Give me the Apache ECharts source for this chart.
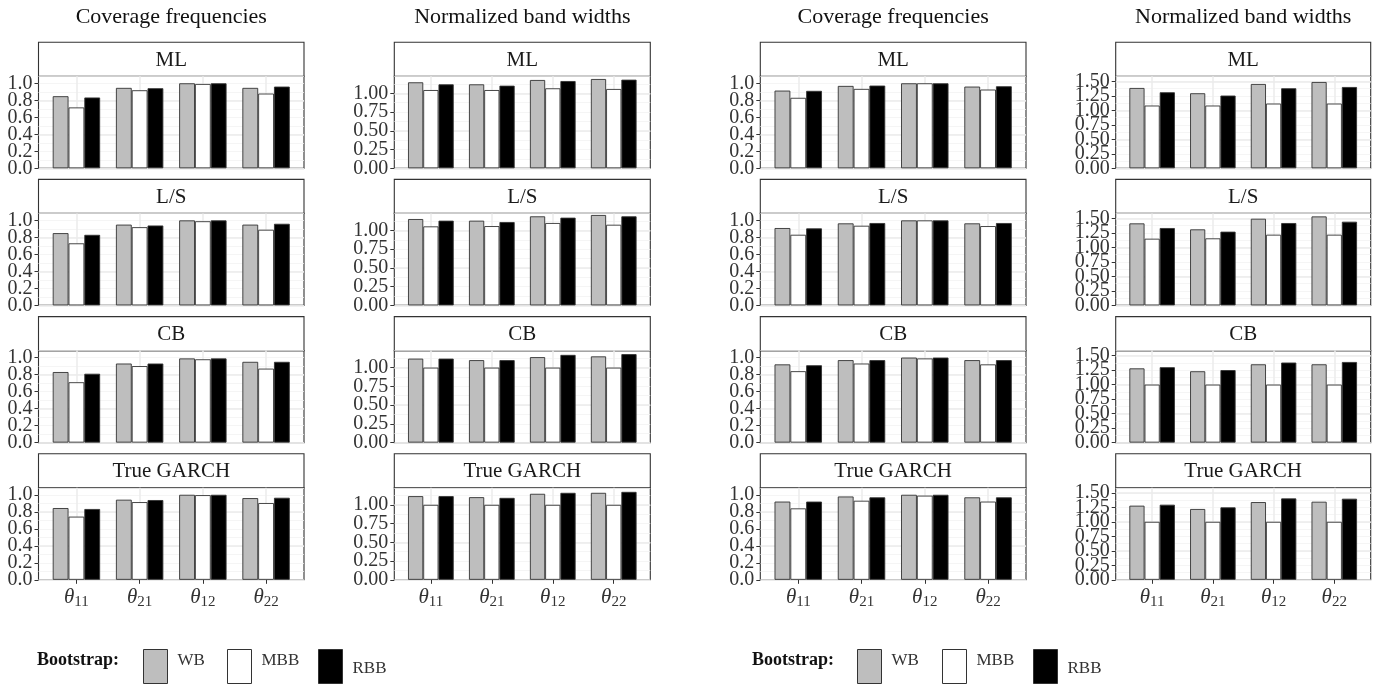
<!DOCTYPE html>
<html>
<head>
<meta charset="utf-8">
<script src="https://cdn.jsdelivr.net/npm/echarts@6/dist/echarts.min.js"></script>
<style>
  html, body { margin: 0; padding: 0; background: #fff; }
  #chart { width: 1378px; height: 684px; }
</style>
</head>
<body>
<div id="chart"></div>
<script>
// Categories and facets
const params = ['θ11', 'θ21', 'θ12', 'θ22'];
const estimators = ['ML', 'L/S', 'CB', 'True GARCH'];
const bootstraps = ['WB', 'MBB', 'RBB'];
const columnTitles = ['Coverage frequencies', 'Normalized band widths', 'Coverage frequencies', 'Normalized band widths'];

// Left figure, coverage frequencies (rows: ML, L/S, CB, True GARCH; cols: params)
const covA_WB  = [[0.848, 0.946, 1.000, 0.946], [0.850, 0.950, 1.000, 0.950], [0.830, 0.930, 0.990, 0.950], [0.844, 0.942, 1.000, 0.961]];
const covA_MBB = [[0.716, 0.918, 0.992, 0.879], [0.730, 0.920, 0.990, 0.890], [0.710, 0.900, 0.980, 0.870], [0.743, 0.914, 0.996, 0.903]];
const covA_RBB = [[0.833, 0.942, 1.000, 0.961], [0.830, 0.940, 1.000, 0.960], [0.810, 0.930, 0.990, 0.950], [0.833, 0.938, 1.000, 0.965]];

// Left figure, normalized band widths
const bwA_WB  = [[1.147, 1.120, 1.178, 1.191], [1.152, 1.130, 1.188, 1.206], [1.120, 1.100, 1.140, 1.150], [1.116, 1.102, 1.147, 1.160]];
const bwA_MBB = [[1.044, 1.044, 1.067, 1.058], [1.054, 1.058, 1.099, 1.076], [1.000, 1.000, 1.000, 1.000], [1.000, 1.000, 1.000, 1.000]];
const bwA_RBB = [[1.120, 1.102, 1.164, 1.182], [1.130, 1.112, 1.170, 1.188], [1.120, 1.100, 1.170, 1.180], [1.116, 1.093, 1.160, 1.173]];

// Right figure, coverage frequencies
const covB_WB  = [[0.914, 0.969, 1.000, 0.961], [0.910, 0.965, 1.000, 0.965], [0.920, 0.970, 1.000, 0.970], [0.920, 0.980, 1.000, 0.970]];
const covB_MBB = [[0.829, 0.934, 1.000, 0.926], [0.831, 0.937, 1.000, 0.933], [0.840, 0.930, 0.990, 0.920], [0.840, 0.930, 0.990, 0.920]];
const covB_RBB = [[0.911, 0.973, 1.000, 0.965], [0.906, 0.969, 1.000, 0.969], [0.910, 0.970, 1.000, 0.970], [0.920, 0.970, 1.000, 0.970]];

// Right figure, normalized band widths
const bwB_WB  = [[1.385, 1.294, 1.454, 1.488], [1.414, 1.311, 1.494, 1.534], [1.280, 1.230, 1.350, 1.350], [1.278, 1.221, 1.340, 1.346]];
const bwB_MBB = [[1.082, 1.082, 1.116, 1.116], [1.150, 1.156, 1.219, 1.219], [1.000, 1.000, 1.000, 1.000], [1.000, 1.000, 1.000, 1.000]];
const bwB_RBB = [[1.311, 1.254, 1.380, 1.402], [1.334, 1.271, 1.420, 1.443], [1.300, 1.250, 1.380, 1.390], [1.295, 1.249, 1.403, 1.398]];

// Y-axis tick labels per column
const covTicks = [0, 0.2, 0.4, 0.6, 0.8, 1.0];
const bwTicksA = [0, 0.25, 0.5, 0.75, 1.0];
const bwTicksB = [0, 0.25, 0.5, 0.75, 1.0, 1.25, 1.5];

// Column setup: data, axis range, tick spacing
const columns = [
  { data: [covA_WB, covA_MBB, covA_RBB], max: 1.082, step: 0.2,  ticks: covTicks, dec: 1 },
  { data: [bwA_WB,  bwA_MBB,  bwA_RBB],  max: 1.227, step: 0.25, ticks: bwTicksA, dec: 2 },
  { data: [covB_WB, covB_MBB, covB_RBB], max: 1.082, step: 0.2,  ticks: covTicks, dec: 1 },
  { data: [bwB_WB,  bwB_MBB,  bwB_RBB],  max: 1.586, step: 0.25, ticks: bwTicksB, dec: 2 }
];

// Layout (pixels)
const panelX = [[38.5, 304], [394.3, 650.3], [760.3, 1026], [1115.7, 1370.7]];
const stripTop = [42.3, 179.4, 316.6, 453.8];
const STRIP_H = 34, PLOT_H = 92;
const SERIF = 'Liberation Serif';
const fills = ['#bebebe', '#ffffff', '#000000'];
const MAJOR = '#ebebeb', MINOR = '#f3f3f3', INK = '#333333';

const grid = [], xAxis = [], yAxis = [], series = [], graphic = [];

columns.forEach((col, c) => {
  const L = panelX[c][0], R = panelX[c][1], W = R - L, u = W / 4.2;
  // tick labels are split over two axes so that the tightly packed labels all stay visible
  const labelSets = [col.ticks.filter((_, i) => i % 2 === 0), col.ticks.filter((_, i) => i % 2 === 1)];
  graphic.push({
    type: 'text', silent: true,
    style: { text: columnTitles[c], x: (L + R) / 2, y: 17, align: 'center', verticalAlign: 'middle',
             font: '22px "' + SERIF + '"', fill: '#111' }
  });
  estimators.forEach((est, r) => {
    const top = stripTop[r] + STRIP_H;
    // facet strip
    graphic.push({
      type: 'rect', silent: true,
      shape: { x: L, y: stripTop[r], width: W, height: STRIP_H },
      style: { fill: '#fff', stroke: INK, lineWidth: 1.1 }
    });
    graphic.push({
      type: 'text', silent: true,
      style: { text: est, x: (L + R) / 2, y: stripTop[r] + STRIP_H / 2 + 1, align: 'center', verticalAlign: 'middle',
               font: '21px "' + SERIF + '"', fill: '#1a1a1a' }
    });

    // panel background + horizontal grid lines
    const gA = grid.length;
    grid.push({ left: L, top: top, width: W, height: PLOT_H, show: true, backgroundColor: '#fff',
                borderColor: INK, borderWidth: 1.1 });
    xAxis.push({ gridIndex: gA, type: 'value', show: false, min: 0, max: 1 });
    yAxis.push({ gridIndex: gA, type: 'value', min: 0, max: col.max, interval: col.step / 2, position: 'left',
                 axisLine: { show: false }, axisTick: { show: false }, axisLabel: { show: false },
                 splitLine: { show: true, lineStyle: { color: MINOR, width: 0.8 } } });
    labelSets.forEach((vals, s) => {
      yAxis.push({ gridIndex: gA, type: 'value', min: 0, max: col.max, interval: col.step, position: 'left',
                   axisLine: { show: false },
                   axisTick: { show: true, length: 4, customValues: vals, lineStyle: { color: INK, width: 1 } },
                   axisLabel: { show: true, customValues: vals, margin: 6, showMinLabel: true, showMaxLabel: true,
                                fontFamily: SERIF, fontSize: 20, color: INK,
                                formatter: v => Number(v).toFixed(col.dec) },
                   splitLine: { show: s === 0, lineStyle: { color: MAJOR, width: 1.5 } } });
    });

    // vertical grid lines at category centres
    const gC = grid.length;
    grid.push({ left: L + 0.6 * u, top: top, width: 3 * u, height: PLOT_H });
    xAxis.push({ gridIndex: gC, type: 'category', data: params, boundaryGap: false,
                 axisLine: { show: false }, axisTick: { show: false }, axisLabel: { show: false },
                 splitLine: { show: true, interval: 0, lineStyle: { color: MAJOR, width: 1.5 } } });
    yAxis.push({ gridIndex: gC, type: 'value', show: false, min: 0, max: 1 });

    // bars
    const gB = grid.length;
    grid.push({ left: L + 0.1 * u, top: top, width: 4 * u, height: PLOT_H });
    const xB = xAxis.length;
    const bottomRow = r === estimators.length - 1;
    xAxis.push({ gridIndex: gB, type: 'category', data: params,
                 axisLine: { show: false },
                 axisTick: { show: bottomRow, alignWithLabel: true, length: 4, lineStyle: { color: INK, width: 1 } },
                 axisLabel: { show: bottomRow, interval: 0, margin: 5,
                              formatter: v => '{t|' + v.charAt(0) + '}{s|' + v.slice(1) + '}',
                              rich: {
                                t: { fontFamily: SERIF, fontStyle: 'italic', fontSize: 21, color: INK },
                                s: { fontFamily: SERIF, fontSize: 15, color: INK, padding: [10, 0, 0, 0] }
                              } },
                 splitLine: { show: false } });
    const yB = yAxis.length;
    yAxis.push({ gridIndex: gB, type: 'value', show: false, min: 0, max: col.max });
    bootstraps.forEach((b, k) => {
      series.push({
        type: 'bar', name: b, xAxisIndex: xB, yAxisIndex: yB,
        data: col.data[k][r],
        barGap: '0%', barCategoryGap: '25%',
        itemStyle: { color: fills[k], borderColor: INK, borderWidth: 0.9 },
        silent: true, animation: false
      });
    });
  });
});

// Legends (one per figure half)
const legendHalves = [{ label: 37, keys: [143, 227, 318] }, { label: 752, keys: [857, 942, 1033] }];
const legend = [];
legendHalves.forEach(h => {
  graphic.push({
    type: 'text', silent: true,
    style: { text: 'Bootstrap:', x: h.label, y: 660, align: 'left', verticalAlign: 'middle',
             font: 'bold 18px "' + SERIF + '"', fill: '#111' }
  });
  bootstraps.forEach((b, k) => {
    legend.push({
      left: h.keys[k], top: 649, padding: 0, itemWidth: 24, itemHeight: 34, selectedMode: false,
      formatter: name => '{a|' + name + '}',
      textStyle: { fontFamily: SERIF, fontSize: 17, color: INK,
                   rich: { a: { fontFamily: SERIF, fontSize: 17, color: INK,
                                padding: k === 2 ? [5, 0, 0, 5] : [0, 0, 12, 5] } } },
      data: [{ name: b, icon: 'rect',
               itemStyle: { color: fills[k], borderColor: INK, borderWidth: 1 } }]
    });
  });
});

const chart = echarts.init(document.getElementById('chart'), null, { renderer: 'canvas' });
chart.setOption({
  animation: false,
  backgroundColor: '#fff',
  textStyle: { fontFamily: SERIF },
  grid, xAxis, yAxis, series, legend, graphic
});
</script>
</body>
</html>
